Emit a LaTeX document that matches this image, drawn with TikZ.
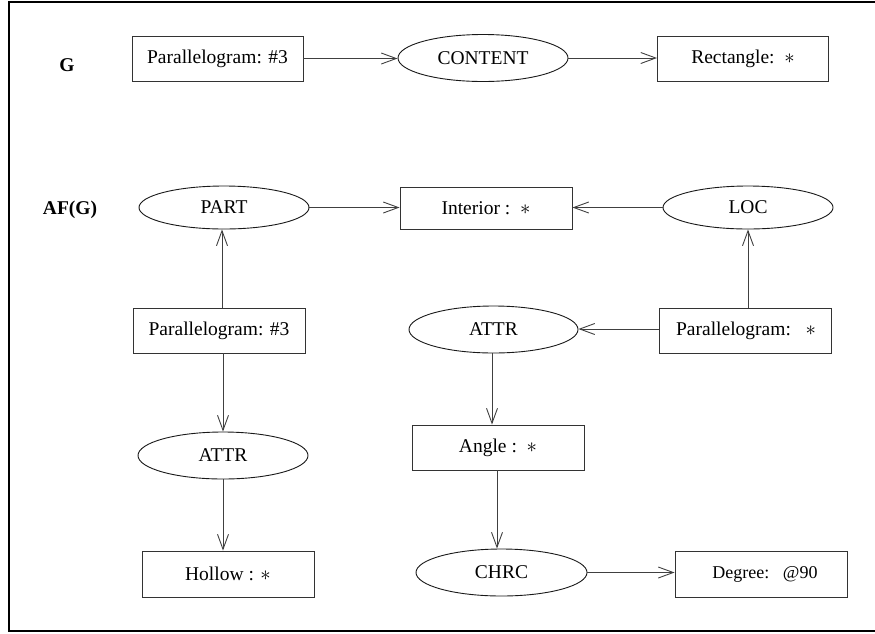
\documentclass[tikz,border=0pt]{standalone}
\usepackage{fontspec}
\setmainfont{Liberation Serif}
\usetikzlibrary{shapes.geometric,arrows.meta}
\tikzset{
  box/.style={draw=black!80, line width=0.9pt, rectangle, minimum width=171pt, minimum height=45pt, inner sep=0pt, font=\fontsize{19.5}{22}\selectfont},
  oval/.style={draw=black!90, line width=0.9pt, ellipse, minimum width=170pt, minimum height=46pt, inner sep=0pt, font=\fontsize{19.5}{22}\selectfont},
  lbl/.style={inner sep=0pt, font=\fontsize{19.5}{22}\selectfont\bfseries},
  arr/.style={draw=black!75, line width=0.9pt, -{Straight Barb[length=15pt,width=11pt,line width=0.9pt]}},
  frame/.style={line width=2.4pt}
}
\begin{document}
\begin{tikzpicture}[x=1pt,y=-1pt]
\useasboundingbox (0,0) rectangle (875,633);
\draw[frame] (880,2) -- (9,2) -- (9,631) -- (880,631);

\node[lbl] (g) at (67,65) {G};
\node[lbl] (afg) at (70,210) {AF(G)};

\node[box] (toppara) at (217.5,58.5) {Parallelogram: \#3};
\node[oval, minimum height=47pt] (content) at (483,58) {CONTENT};
\node[box] (rect) at (743,58.5) {Rectangle:\ \ $\ast$};

\node[oval, minimum height=43pt] (part) at (224,207.5) {PART};
\node[box, minimum width=172pt, minimum height=42pt] (interior) at (486,208) {Interior :\ \ $\ast$};
\node[oval, minimum height=43pt] (loc) at (748,207.5) {LOC};

\node[box, minimum width=172pt] (midpara) at (219,330.5) {Parallelogram: \#3};
\node[oval, minimum width=169pt, minimum height=47pt] (attrr) at (493.5,329.5) {ATTR};
\node[box, minimum width=172pt] (parastar) at (745,330.5) {\hspace*{2pt}Parallelogram:\ \ \ $\ast$};

\node[oval, minimum height=47pt] (attrl) at (223,455.5) {ATTR};
\node[box, minimum width=172pt] (angle) at (498,447.5) {Angle :\ \ $\ast$};

\node[box, minimum width=172pt, minimum height=46pt] (hollow) at (228,574) {Hollow : $\ast$};
\node[oval, minimum width=171pt, minimum height=47pt] (chrc) at (501.5,572.5) {CHRC};
\node[box, minimum width=172pt, minimum height=46pt, font=\fontsize{18}{21}\selectfont] (degree) at (761,574) {\hspace*{8pt}Degree:\ \ \ @90};

\draw[arr] (toppara.east) -- (toppara.east -| content.west);
\draw[arr] (content.east) -- (content.east -| rect.west);
\draw[arr] (part.east) -- (part.east -| interior.west);
\draw[arr] (loc.west) -- (loc.west -| interior.east);
\draw[arr] ([xshift=-2pt]part.south |- midpara.north) -- ([xshift=-2pt]part.south);
\draw[arr] (attrl.north |- midpara.south) -- (attrl.north);
\draw[arr] (attrl.south) -- (attrl.south |- hollow.north);
\draw[arr] (loc.south |- parastar.north) -- (loc.south);
\draw[arr] ([yshift=1.5pt]parastar.west) -- ([yshift=1.5pt]parastar.west -| attrr.east);
\draw[arr] ([xshift=-1.5pt]attrr.south) -- ([xshift=-1.5pt]attrr.south |- angle.north);
\draw[arr] ([xshift=-1pt]angle.south) -- ([xshift=-1pt]angle.south |- chrc.north);
\draw[arr] (chrc.east) -- (chrc.east -| degree.west);
\end{tikzpicture}
\end{document}
